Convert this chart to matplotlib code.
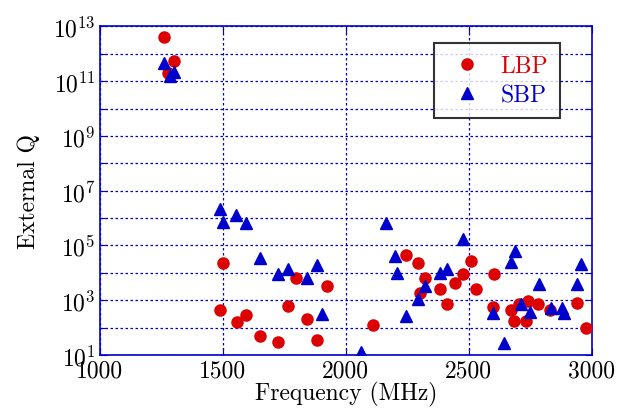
import numpy as np
import matplotlib
matplotlib.use("Agg")
import matplotlib.pyplot as plt
from matplotlib.ticker import FixedLocator, FuncFormatter, NullLocator

# Datos (frecuencia en MHz, log10 de Q externo)
lbp_freq = [1262, 1302, 1279,
            1500, 1489, 1556, 1593, 1653, 1726, 1765, 1798, 1841, 1882, 1924,
            2112, 2244, 2293, 2323, 2302, 2384, 2413, 2444, 2476, 2508, 2528,
            2603, 2597, 2672, 2685, 2702, 2732, 2742, 2780, 2828, 2939, 2976]
lbp_logq = [12.62, 11.74, 11.29,
            4.36, 2.64, 2.22, 2.46, 1.69, 1.46, 2.80, 3.82, 2.32, 1.56, 3.52,
            2.08, 4.64, 4.37, 3.80, 3.25, 3.40, 2.85, 3.64, 3.97, 4.43, 3.40,
            3.97, 2.75, 2.64, 2.26, 2.87, 2.26, 2.97, 2.87, 2.63, 2.91, 2.00]

sbp_freq = [1261, 1303, 1286,
            1489, 1500, 1555, 1593, 1653, 1726, 1765, 1841, 1882, 1905, 2061,
            2163, 2201, 2207, 2244, 2293, 2323, 2384, 2413, 2476,
            2598, 2641, 2672, 2686, 2710, 2747, 2785, 2833, 2878, 2885, 2939, 2955]
sbp_logq = [11.65, 11.32, 11.17,
            6.32, 5.86, 6.10, 5.81, 4.55, 3.95, 4.13, 3.81, 4.28, 2.48, 1.12,
            5.83, 4.61, 4.00, 2.44, 3.05, 3.52, 4.00, 4.13, 5.22,
            2.54, 1.45, 4.39, 4.80, 2.87, 2.58, 3.58, 2.71, 2.73, 2.52, 3.58, 4.33]

lbp_q = 10 ** np.array(lbp_logq)
sbp_q = 10 ** np.array(sbp_logq)

rojo = '#dd0000'
azul = '#0000cc'

plt.rcParams['font.family'] = 'cmr10'
plt.rcParams['mathtext.fontset'] = 'cm'
plt.rcParams['axes.formatter.use_mathtext'] = True

fig = plt.figure(figsize=(6.31, 4.14), dpi=100)
ax = fig.add_axes([0.158, 0.140, 0.780, 0.794])

ax.plot(lbp_freq, lbp_q, 'o', color=rojo, markersize=8, label='LBP', zorder=3)
ax.plot(sbp_freq, sbp_q, '^', color=azul, markersize=8, label='SBP', zorder=3)

ax.set_yscale('log')
ax.set_xlim(1000, 3000)
ax.set_ylim(1e1, 1e13)

ax.xaxis.set_major_locator(FixedLocator([1000, 1500, 2000, 2500, 3000]))
ax.yaxis.set_major_locator(FixedLocator([10.0 ** k for k in range(1, 14)]))
ax.yaxis.set_minor_locator(NullLocator())


def fmt_y(v, pos):
    k = int(round(np.log10(v)))
    if k % 2 == 1:
        return r'$10^{%d}$' % k
    return ''


ax.yaxis.set_major_formatter(FuncFormatter(fmt_y))
ax.xaxis.set_major_formatter(FuncFormatter(lambda v, p: '%d' % v))

ax.grid(True, which='major', color=azul, linestyle=(0, (2, 2)), linewidth=0.9)
ax.set_axisbelow(True)
for s in ax.spines.values():
    s.set_color(azul)
    s.set_linewidth(1.2)
ax.tick_params(which='both', direction='in', colors=azul, labelcolor='black',
               labelsize=17, top=True, right=True, length=5, pad=3)

ax.set_xlabel('Frequency (MHz)', fontsize=17, labelpad=0)
ax.set_ylabel('External Q', fontsize=17, labelpad=9)

leg = ax.legend(loc='upper right', bbox_to_anchor=(0.935, 0.948), fontsize=17,
                frameon=True, fancybox=False, edgecolor='black',
                handletextpad=0.5, borderpad=0.5, labelspacing=0.3,
                handlelength=1.8, borderaxespad=0)
leg.get_frame().set_linewidth(1.5)
leg.get_texts()[0].set_color(rojo)
leg.get_texts()[1].set_color(azul)

fig.savefig('out.png', dpi=100)
